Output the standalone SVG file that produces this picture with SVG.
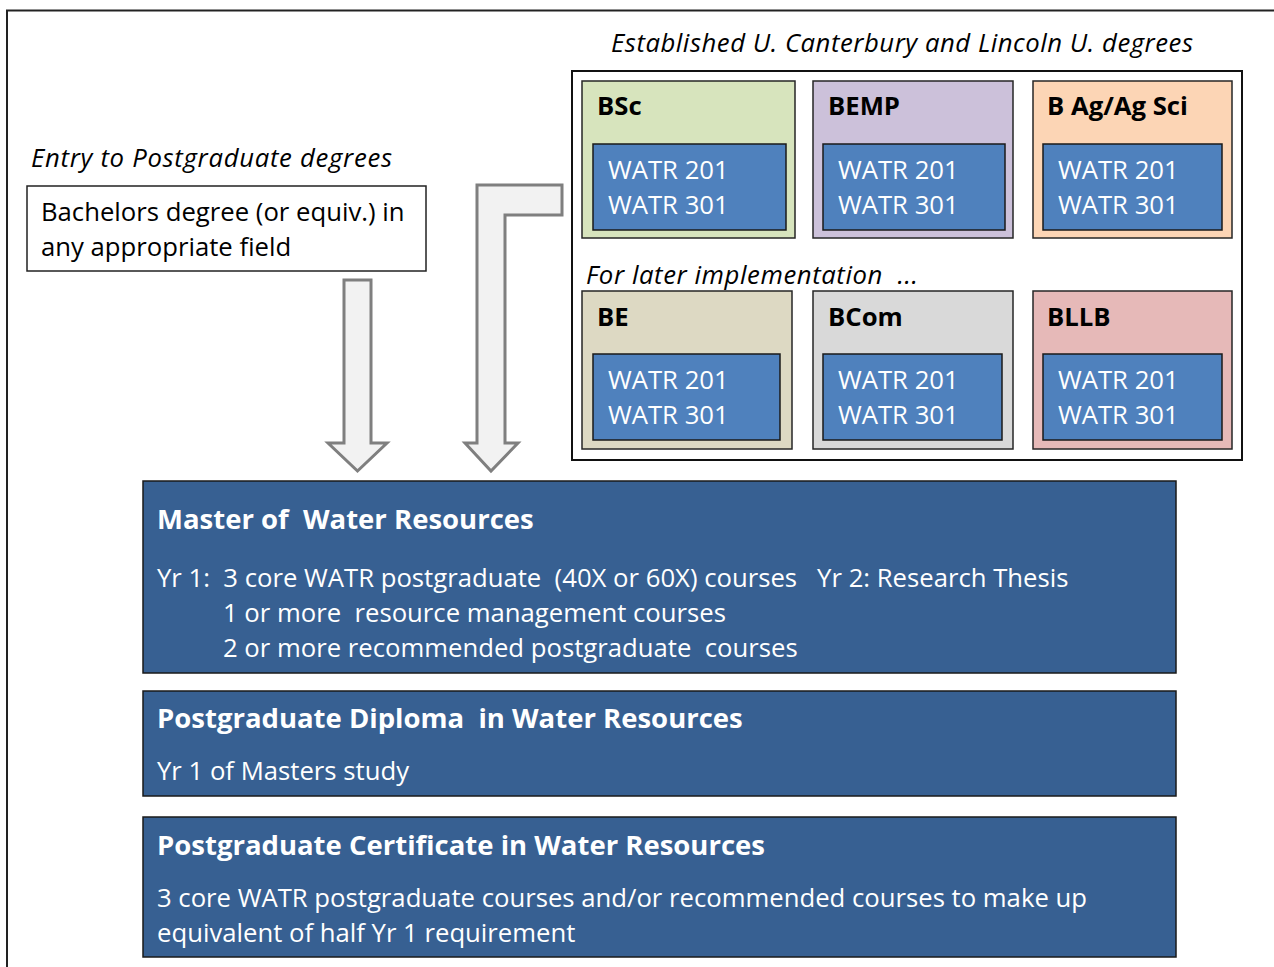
<svg xmlns="http://www.w3.org/2000/svg" width="1274" height="967" viewBox="0 0 1274 967">
<style>
text{font-family:"Open Sans","Liberation Sans",sans-serif;font-size:25.7px;}
.it{font-style:italic;fill:#000;}
.hd{font-weight:bold;fill:#000;}
.w{fill:#fff;}
.wb{fill:#fff;font-weight:bold;font-size:27.5px;}
.deg{stroke:#262626;stroke-width:1.5;}
.inner{fill:#4f81bd;stroke:#1a1a1a;stroke-width:1.5;}
.pg{fill:#376092;stroke:#1a1a1a;stroke-width:1.5;}
.arr{fill:#f2f2f2;stroke:#7f7f7f;stroke-width:3;}
</style>
<rect width="1274" height="967" fill="#fff"/>
<rect x="7" y="10.5" width="1300" height="1000" fill="none" stroke="#222" stroke-width="2"/>

<g id="entry">
<text class="it" x="31" y="167" textLength="361" lengthAdjust="spacing">Entry to Postgraduate degrees</text>
<rect x="27" y="186" width="399" height="85" fill="#fff" stroke="#222" stroke-width="1.5"/>
<text x="41" y="221" fill="#000">Bachelors degree (or equiv.) in</text>
<text x="41" y="256" fill="#000">any appropriate field</text>
</g>

<g id="established">
<text class="it" x="611" y="52" textLength="582" lengthAdjust="spacing">Established U. Canterbury and Lincoln U. degrees</text>
<rect x="572" y="71" width="670" height="389" fill="#fff" stroke="#111" stroke-width="2"/>
<text class="it" x="586" y="284" textLength="332" lengthAdjust="spacing" xml:space="preserve">For later implementation  ...</text>
</g>

<g id="bsc">
<rect class="deg" x="582" y="81" width="213" height="157" fill="#d7e4bd"/>
<text class="hd" x="597" y="115">BSc</text>
<rect class="inner" x="593" y="144" width="193" height="86"/>
<text class="w" x="608" y="179">WATR 201</text>
<text class="w" x="608" y="214">WATR 301</text>
</g>
<g id="bemp">
<rect class="deg" x="813" y="81" width="200" height="157" fill="#ccc1da"/>
<text class="hd" x="828" y="115">BEMP</text>
<rect class="inner" x="823" y="144" width="182" height="86"/>
<text class="w" x="838" y="179">WATR 201</text>
<text class="w" x="838" y="214">WATR 301</text>
</g>
<g id="bag">
<rect class="deg" x="1033" y="81" width="199" height="157" fill="#fcd5b5"/>
<text class="hd" x="1047" y="115">B Ag/Ag Sci</text>
<rect class="inner" x="1043" y="144" width="179" height="86"/>
<text class="w" x="1058" y="179">WATR 201</text>
<text class="w" x="1058" y="214">WATR 301</text>
</g>
<g id="be">
<rect class="deg" x="582" y="291" width="210" height="158" fill="#ddd9c3"/>
<text class="hd" x="597" y="326">BE</text>
<rect class="inner" x="593" y="354" width="187" height="86"/>
<text class="w" x="608" y="389">WATR 201</text>
<text class="w" x="608" y="424">WATR 301</text>
</g>
<g id="bcom">
<rect class="deg" x="813" y="291" width="200" height="158" fill="#d9d9d9"/>
<text class="hd" x="828" y="326">BCom</text>
<rect class="inner" x="823" y="354" width="179" height="86"/>
<text class="w" x="838" y="389">WATR 201</text>
<text class="w" x="838" y="424">WATR 301</text>
</g>
<g id="bllb">
<rect class="deg" x="1033" y="291" width="199" height="158" fill="#e6b9b8"/>
<text class="hd" x="1047" y="326">BLLB</text>
<rect class="inner" x="1043" y="354" width="179" height="86"/>
<text class="w" x="1058" y="389">WATR 201</text>
<text class="w" x="1058" y="424">WATR 301</text>
</g>

<g id="connectors">
<polygon class="arr" points="344,280 371,280 371,443 387,443 357.5,471 328,443 344,443"/>
<polygon class="arr" points="477,185 562,185 562,215 505,215 505,443 518,443 491,471 465,443 477,443"/>
</g>

<g id="master">
<rect class="pg" x="143" y="481" width="1033" height="192"/>
<text class="wb" x="157" y="529" xml:space="preserve">Master of  Water Resources</text>
<text class="w" x="157" y="587" xml:space="preserve">Yr 1:  3 core WATR postgraduate  (40X or 60X) courses   Yr 2: Research Thesis</text>
<text class="w" x="223" y="622" xml:space="preserve">1 or more  resource management courses</text>
<text class="w" x="223" y="657" xml:space="preserve">2 or more recommended postgraduate  courses</text>
</g>
<g id="diploma">
<rect class="pg" x="143" y="691" width="1033" height="105"/>
<text class="wb" x="157" y="728" xml:space="preserve">Postgraduate Diploma  in Water Resources</text>
<text class="w" x="157" y="780">Yr 1 of Masters study</text>
</g>
<g id="certificate">
<rect class="pg" x="143" y="817" width="1033" height="140"/>
<text class="wb" x="157" y="855">Postgraduate Certificate in Water Resources</text>
<text class="w" x="157" y="907">3 core WATR postgraduate courses and/or recommended courses to make up</text>
<text class="w" x="157" y="942">equivalent of half Yr 1 requirement</text>
</g>
</svg>
